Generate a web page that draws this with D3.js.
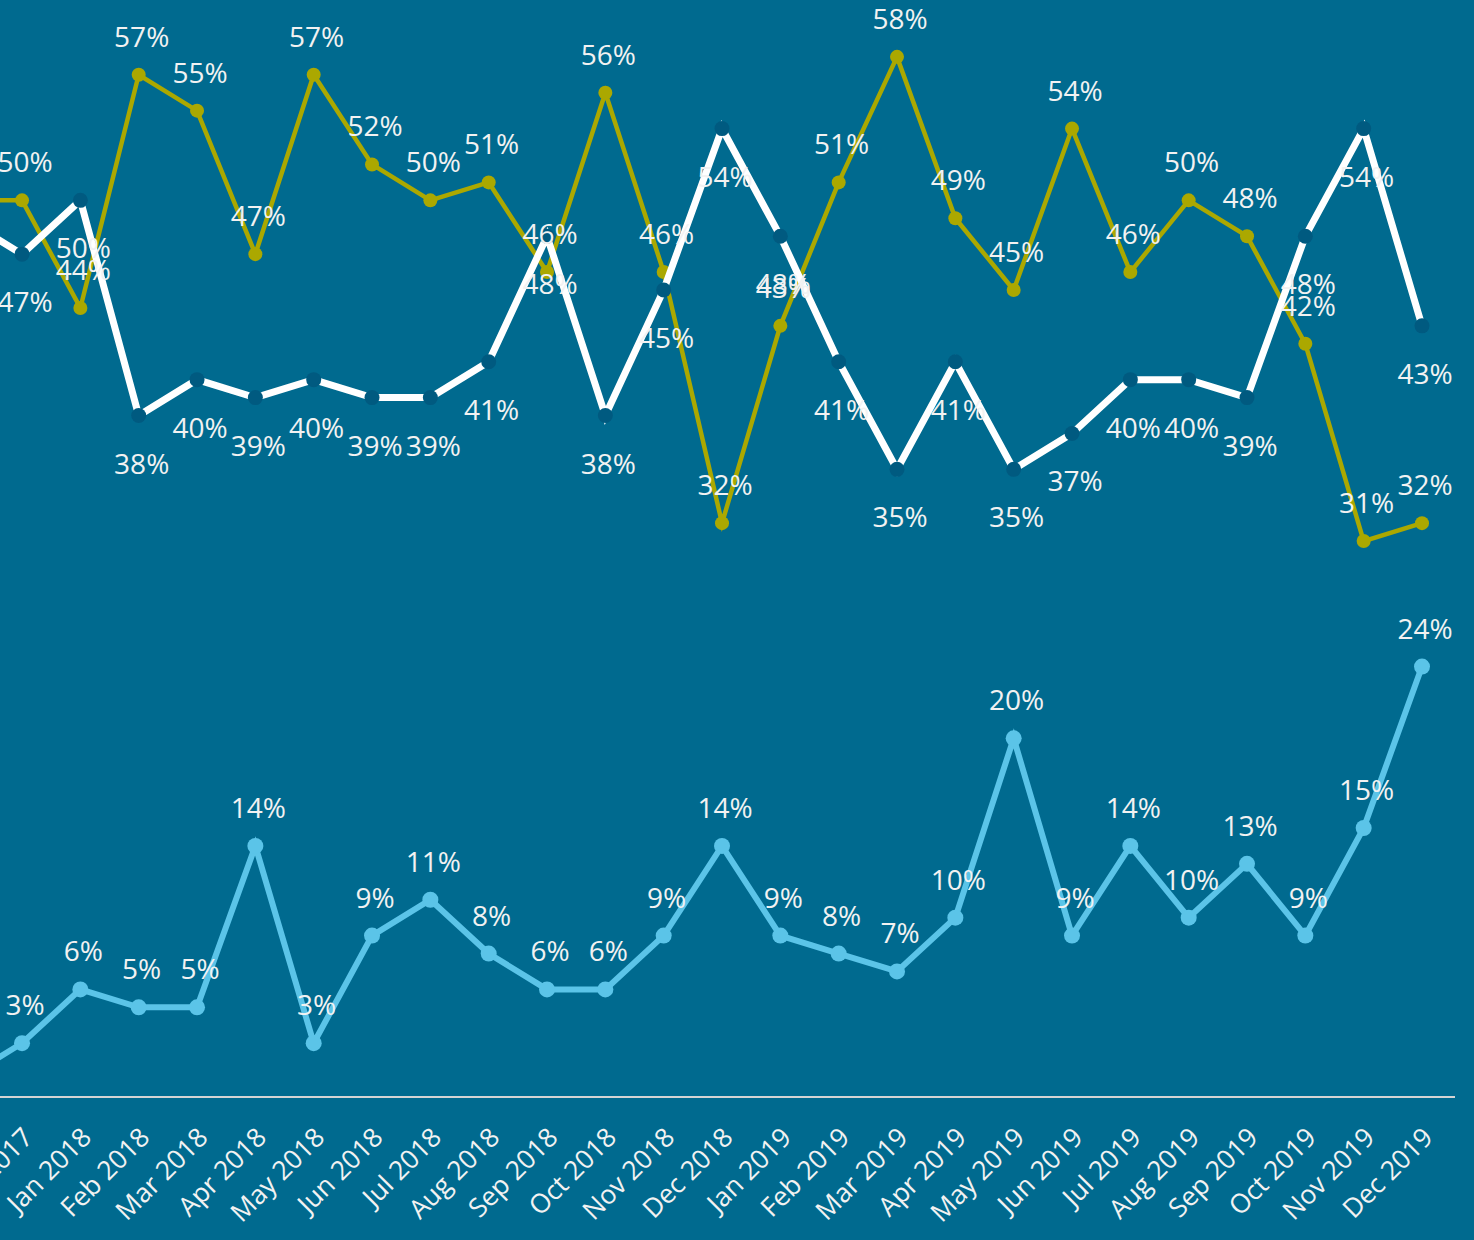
<!DOCTYPE html>
<html><head><meta charset="utf-8">
<script src="https://cdn.jsdelivr.net/npm/d3@7"></script>
<style>
html,body{margin:0;padding:0;background:#006a8f;overflow:hidden}
svg{display:block}
</style></head>
<body>
<svg id="chart" width="1474" height="1240"></svg>
<script>
const months = ["Nov 2017","Dec 2017","Jan 2018","Feb 2018","Mar 2018","Apr 2018","May 2018","Jun 2018","Jul 2018","Aug 2018","Sep 2018","Oct 2018","Nov 2018","Dec 2018","Jan 2019","Feb 2019","Mar 2019","Apr 2019","May 2019","Jun 2019","Jul 2019","Aug 2019","Sep 2019","Oct 2019","Nov 2019","Dec 2019"];
const goldSeries  = [50,50,44,57,55,47,57,52,50,51,46,56,46,32,43,51,58,49,45,54,46,50,48,42,31,32];
const whiteSeries = [49,47,50,38,40,39,40,39,39,41,48,38,45,54,48,41,35,41,35,37,40,40,39,48,54,43];
const blueSeries  = [1,3,6,5,5,14,3,9,11,8,6,6,9,14,9,8,7,10,20,9,14,10,13,9,15,24];

const svg = d3.select("#chart");
const W = 1474, H = 1240;
svg.append("rect").attr("width",W).attr("height",H).attr("fill","#006a8f");

const x = d3.scalePoint().domain(months).range([-36.3, 1422]);
const y = d3.scaleLinear().domain([0, 60]).range([1097, 21]);
const fontFam = "'Open Sans', 'Noto Sans', sans-serif";

// axis baseline
svg.append("line").attr("x1",0).attr("x2",1455).attr("y1",y(0)).attr("y2",y(0))
  .attr("stroke","#d4d4d4").attr("stroke-width",2);

// x tick labels
const xAxis = d3.axisBottom(x).tickSize(0).tickPadding(0);
const ax = svg.append("g").attr("transform",`translate(0,${y(0)})`).call(xAxis);
ax.select(".domain").remove();
ax.selectAll("text")
  .attr("fill","#f2f2f2")
  .attr("font-family",fontFam)
  .attr("font-size",26.5)
  .attr("text-anchor","end")
  .attr("dy",0)
  .attr("transform","translate(12,42) rotate(-45)");

function drawLine(data, color, width, dotColor, r) {
  const pts = months.map((m,i)=>({m, v:data[i]}));
  const line = d3.line().x(d=>x(d.m)).y(d=>y(d.v));
  const g = svg.append("g");
  g.append("path").datum(pts).attr("d",line).attr("fill","none")
    .attr("stroke",color).attr("stroke-width",width).attr("stroke-linejoin","miter");
  g.selectAll("circle").data(pts).join("circle")
    .attr("cx",d=>x(d.m)).attr("cy",d=>y(d.v)).attr("r",r).attr("fill",dotColor);
  return pts;
}

const goldPts = drawLine(goldSeries, "#aba800", 4.5, "#aba800", 7);
const whitePts = drawLine(whiteSeries, "#ffffff", 7, "#005a80", 7.5);
const bluePts = drawLine(blueSeries, "#5bc4e8", 6, "#5bc4e8", 8);

function labels(pts, dy) {
  svg.append("g").selectAll("text").data(pts).join("text")
    .attr("x",d=>x(d.m)+3).attr("y",d=>y(d.v)+dy)
    .attr("text-anchor","middle")
    .attr("fill","#f2f2f2")
    .attr("font-family",fontFam)
    .attr("font-size",28)
    .text(d=>d.v+"%");
}
labels(goldPts, -28);
labels(whitePts, 58);
labels(bluePts, -28);
</script>
</body></html>
